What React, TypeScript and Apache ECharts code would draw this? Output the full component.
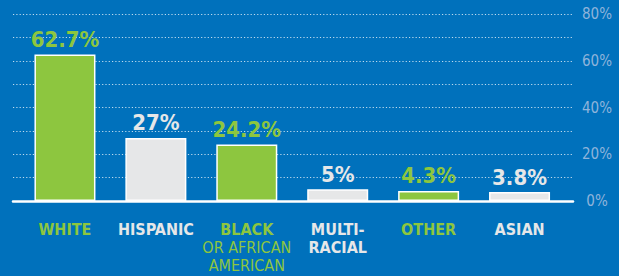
import React, { useEffect, useRef } from "react";
import * as echarts from "echarts";

const categories = ["WHITE", "HISPANIC", "BLACK", "MULTI-\nRACIAL", "OTHER", "ASIAN"];
const subtitles = ["", "", "OR AFRICAN\nAMERICAN", "", "", ""];
const values = [62.7, 27, 24.2, 5, 4.3, 3.8];
const valueLabels = ["62.7%", "27%", "24.2%", "5%", "4.3%", "3.8%"];
const highlighted = [true, false, true, false, true, false];
const yTicks = [0, 20, 40, 60, 80];

const BG = "#0071bc";
const GREEN = "#8dc63f";
const GREY = "#e6e7e8";
const FONT = "'Liberation Sans Narrow', 'DejaVu Sans Condensed', 'Arial Narrow', sans-serif";

export default function App() {
  const ref = useRef<HTMLDivElement>(null);
  useEffect(() => {
    if (!ref.current) return;
    const chart = echarts.init(ref.current, null, { renderer: "svg" });
    chart.setOption({
      animation: false,
      backgroundColor: BG,
      grid: [
        { left: 13, right: 46, top: 14, bottom: 75 },
        { left: 19.5, right: 54, top: 14, bottom: 75 },
      ],
      xAxis: [
        {
          gridIndex: 0,
          type: "category",
          data: [""],
          axisLine: { show: true, lineStyle: { color: "#ffffff", width: 2.5 } },
          axisTick: { show: false },
          axisLabel: { show: false },
          z: 5,
        },
        {
          gridIndex: 1,
          type: "category",
          data: categories,
          axisLine: { show: false },
          axisTick: { show: false },
          axisLabel: {
            margin: 19,
            interval: 0,
            formatter: (v: string, i: number) => {
              const st = highlighted[i] ? "g" : "w";
              const main = v.split("\n").map((s) => `{${st}|${s}}`).join("\n");
              const sub = subtitles[i]
                ? "\n" + subtitles[i].split("\n").map((s) => `{${st}s|${s}}`).join("\n")
                : "";
              return main + sub;
            },
            rich: {
              g: { color: GREEN, fontFamily: FONT, fontWeight: "bold", fontSize: 16, lineHeight: 18 },
              w: { color: GREY, fontFamily: FONT, fontWeight: "bold", fontSize: 16, lineHeight: 18 },
              gs: { color: GREEN, fontFamily: FONT, fontSize: 16, lineHeight: 18 },
              ws: { color: GREY, fontFamily: FONT, fontSize: 16, lineHeight: 18 },
            },
          },
        },
      ],
      yAxis: [
        {
          gridIndex: 0,
          type: "value",
          position: "right",
          min: 0,
          max: 80,
          interval: 10,
          axisLine: { show: false },
          axisTick: { show: false },
          splitLine: {
            show: true,
            lineStyle: { color: "rgba(255,255,255,0.75)", width: 1, type: [1.2, 2.1] },
          },
          axisLabel: {
            margin: 24,
            align: "center",
            color: "#8fb4db",
            fontFamily: FONT,
            fontSize: 15,
            formatter: (v: number) => (yTicks.indexOf(v) >= 0 ? `${v}%` : ""),
          },
        },
        {
          gridIndex: 1,
          type: "value",
          min: 0,
          max: 80,
          show: false,
          splitLine: { show: false },
        },
      ],
      series: [
        {
          type: "bar",
          xAxisIndex: 1,
          yAxisIndex: 1,
          barWidth: 61,
          data: values.map((v, i) => ({
            value: v,
            itemStyle: {
              color: highlighted[i] ? GREEN : GREY,
              borderColor: "#ffffff",
              borderWidth: 1.5,
            },
            label: {
              show: true,
              position: "top",
              distance: 4,
              formatter: valueLabels[i],
              color: highlighted[i] ? GREEN : GREY,
              fontFamily: FONT,
              fontWeight: "bold",
              fontSize: 22,
            },
          })),
        },
      ],
    });
    return () => chart.dispose();
  }, []);
  return (
    <div
      ref={ref}
      style={{ position: "absolute", left: 0, top: 0, width: 619, height: 276 }}
    />
  );
}
